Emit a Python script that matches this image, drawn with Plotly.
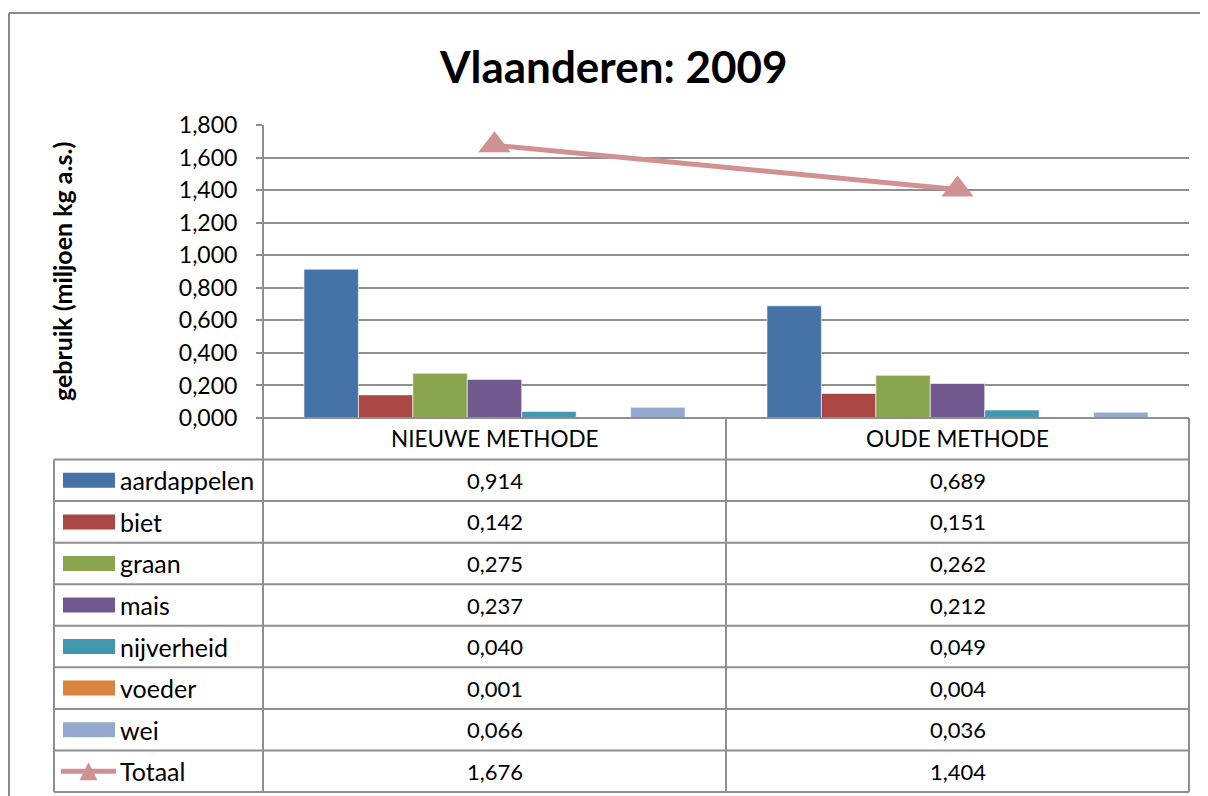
import plotly.graph_objects as go

# ---------------- data ----------------
methods = ["NIEUWE METHODE", "OUDE METHODE"]
series_names = ["aardappelen", "biet", "graan", "mais", "nijverheid", "voeder", "wei"]
aardappelen = [0.914, 0.689]
biet = [0.142, 0.151]
graan = [0.275, 0.262]
mais = [0.237, 0.212]
nijverheid = [0.040, 0.049]
voeder = [0.001, 0.004]
wei = [0.066, 0.036]
totaal = [1.676, 1.404]
y_tickvals = [0.0, 0.2, 0.4, 0.6, 0.8, 1.0, 1.2, 1.4, 1.6, 1.8]

series_values = [aardappelen, biet, graan, mais, nijverheid, voeder, wei]
colors = ["#4572A7", "#AA4643", "#89A54E", "#71588F", "#4198AF", "#DB843D", "#93A9CF"]
total_color = "#D09192"

FONT = "Lato"
W, H = 1208, 796
OFF = 8                               # page body margin
L, R, T, B = 263, 1189, 125, 418      # plot area in screen pixels
GRID = "#8f8f8f"


def px(x):
    return (x - L) / (R - L)


def py(y):
    return (B - y) / (B - T)


def fmt(v):
    return f"{v:.3f}".replace(".", ",")


fig = go.Figure()
for name, vals, col in zip(series_names, series_values, colors):
    fig.add_trace(go.Bar(
        x=methods, y=vals, name=name,
        marker=dict(color=col, line=dict(color="rgba(255,255,255,0.6)", width=1)),
        showlegend=False,
    ))

fig.add_trace(go.Scatter(
    x=methods, y=totaal, name="Totaal", mode="lines+markers",
    line=dict(color=total_color, width=5),
    marker=dict(symbol="triangle-up", size=28, color=total_color),
    showlegend=False,
))

shapes = []
annotations = []


def hline(y, x0, x1, w=2, color=GRID):
    shapes.append(dict(type="line", xref="paper", yref="paper",
                       x0=px(x0), x1=px(x1), y0=py(y), y1=py(y),
                       line=dict(color=color, width=w), layer="above"))


def vline(x, y0, y1, w=2, color=GRID):
    shapes.append(dict(type="line", xref="paper", yref="paper",
                       x0=px(x), x1=px(x), y0=py(y0), y1=py(y1),
                       line=dict(color=color, width=w), layer="above"))


# outer chart frame (only top and left edges are inside the picture)
hline(13, 9, 1240, color="#8a8a8a")
vline(9, 13, 840, color="#8a8a8a")

# data table geometry
row_tops = [418 + i * (792 - 418) / 9 for i in range(10)]
col_x = [54, 263, 726, 1189]

hline(418, 263, 1189)
for yv in row_tops[1:]:
    hline(yv, 54, 1189)
vline(54, row_tops[1], row_tops[-1])
vline(263, 125, row_tops[-1])
vline(726, 418, row_tops[-1])
vline(1189, 418, row_tops[-1])

col_centers = [(col_x[1] + col_x[2]) / 2, (col_x[2] + col_x[3]) / 2]
cell_font = dict(family=FONT, size=22, color="#000000")

# header row: categories
for m, cx in zip(methods, col_centers):
    annotations.append(dict(xref="paper", yref="paper", x=px(cx),
                            y=py((row_tops[0] + row_tops[1]) / 2),
                            text=m, showarrow=False, xanchor="center",
                            yanchor="middle", font=dict(family=FONT, size=22.5, color="#000")))

# series rows
all_names = series_names + ["Totaal"]
all_vals = series_values + [totaal]
for i, (name, vals) in enumerate(zip(all_names, all_vals)):
    yc = (row_tops[i + 1] + row_tops[i + 2]) / 2
    annotations.append(dict(xref="paper", yref="paper", x=px(118), y=py(yc),
                            text=name, showarrow=False, xanchor="left",
                            yanchor="middle", font=dict(family=FONT, size=25, color="#000")))
    for v, cx in zip(vals, col_centers):
        annotations.append(dict(xref="paper", yref="paper", x=px(cx), y=py(yc),
                                text=fmt(v), showarrow=False, xanchor="center",
                                yanchor="middle", font=cell_font))
    if i < len(series_names):
        shapes.append(dict(type="rect", xref="paper", yref="paper",
                           x0=px(63), x1=px(115), y0=py(yc - 7.5), y1=py(yc + 7.5),
                           fillcolor=colors[i], line=dict(width=0), layer="above"))
    else:
        shapes.append(dict(type="line", xref="paper", yref="paper",
                           x0=px(61), x1=px(116), y0=py(yc), y1=py(yc),
                           line=dict(color=total_color, width=5), layer="above"))
        tx = 88.5
        path = (f"M {px(tx - 9)} {py(yc + 9)} L {px(tx + 9)} {py(yc + 9)} "
                f"L {px(tx)} {py(yc - 9)} Z")
        shapes.append(dict(type="path", xref="paper", yref="paper", path=path,
                           fillcolor=total_color, line=dict(width=0), layer="above"))

# title and y-axis title
annotations.append(dict(xref="paper", yref="paper", x=px(613), y=py(66),
                        text="<b>Vlaanderen: 2009</b>", showarrow=False,
                        xanchor="center", yanchor="middle",
                        font=dict(family=FONT, size=44, color="#000")))
annotations.append(dict(xref="paper", yref="paper", x=px(62), y=py(272),
                        text="<b>gebruik (miljoen kg a.s.)</b>", showarrow=False,
                        textangle=-90, xanchor="center", yanchor="middle",
                        font=dict(family=FONT, size=25, color="#000")))

fig.update_layout(
    width=W, height=H,
    margin=dict(l=L - OFF, r=W - R + OFF, t=T - OFF, b=H - B + OFF, pad=0),
    paper_bgcolor="white", plot_bgcolor="white",
    separators=",.",
    barmode="group", bargap=0.177, bargroupgap=0,
    shapes=shapes, annotations=annotations,
    font=dict(family=FONT, color="#000"),
    xaxis=dict(showticklabels=False, showgrid=False, zeroline=False,
               showline=False, ticks="", range=[-0.5, 1.5]),
    yaxis=dict(range=[0, 1.8], tickvals=y_tickvals, tickformat=".3f",
               showgrid=True, gridcolor=GRID, gridwidth=2, zeroline=False,
               showline=False, ticks="outside", ticklen=6, tickcolor=GRID,
               tickwidth=2, ticklabelstandoff=14,
               tickfont=dict(family=FONT, size=23, color="#000")),
)

fig.write_html(
    "out.html",
    post_script="document.documentElement.style.overflow='hidden';"
                "document.body.style.overflow='hidden';",
)
